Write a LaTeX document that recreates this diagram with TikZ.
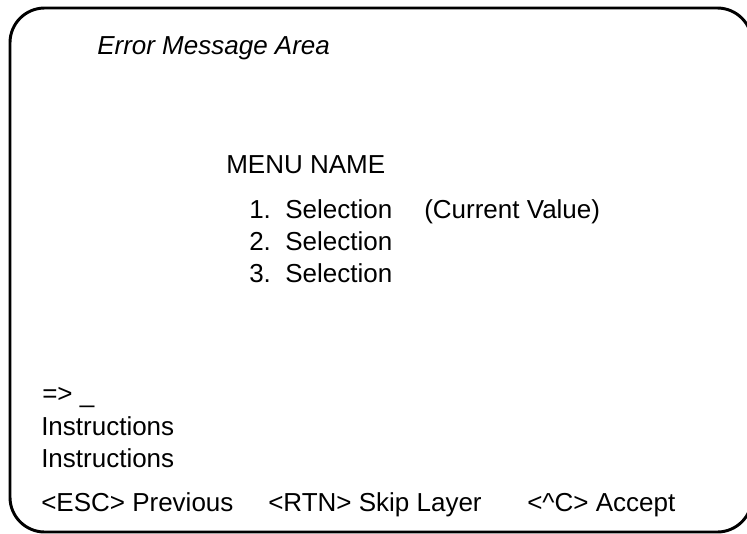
\documentclass[tikz,border=0pt]{standalone}
\usepackage{fontspec}
\setmainfont{Liberation Sans}
\begin{document}
\begin{tikzpicture}[x=0.75pt, y=-0.75pt,
    txt/.style={anchor=base west, inner sep=0pt, font=\fontsize{19.5}{23}\selectfont}]
                \useasboundingbox (0,0) rectangle (747,533);
                \draw [line width=2.2pt, rounded corners=26pt] (10,8) rectangle (752,532);
                \node [txt] (err) at (97,54) {\itshape Error Message Area};
                \node [txt] (menu) at (226,173) {MENU NAME};
                \node [txt] (sel1) at (249,218) {1.\ \ Selection};
                \node [txt] (cur) at (424,218) {(Current Value)};
                \node [txt] (sel2) at (249,250) {2.\ \ Selection};
                \node [txt] (sel3) at (249,282) {3.\ \ Selection};
                \node [txt] (prompt) at (42,402) {=> \_};
                \node [txt] (ins1) at (41,435) {Instructions};
                \node [txt] (ins2) at (41,467) {Instructions};
                \node [txt] (esc) at (41,511) {<ESC> Previous};
                \node [txt] (rtn) at (268,511) {<RTN> Skip Layer};
                \node [txt] (acc) at (527,511) {<\textasciicircum C> Accept};
            \end{tikzpicture}
\end{document}
